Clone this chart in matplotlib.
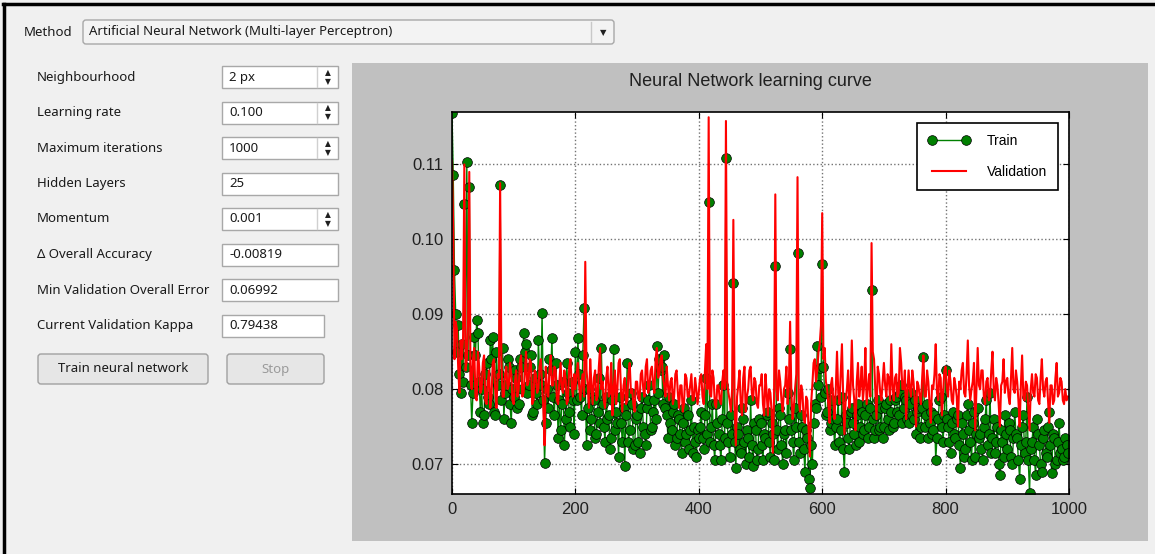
import numpy as np
import matplotlib
matplotlib.use("Agg")
import matplotlib.pyplot as plt
from matplotlib.patches import FancyBboxPatch, Rectangle

# form on the left of the dialog
method_name = "Artificial Neural Network (Multi-layer Perceptron)"
form_labels = ["Neighbourhood", "Learning rate", "Maximum iterations", "Hidden Layers",
               "Momentum", "\u0394 Overall Accuracy", "Min Validation Overall Error",
               "Current Validation Kappa"]
form_values = ["2 px", "0.100", "1000", "25", "0.001", "-0.00819", "0.06992", "0.79438"]
form_spin = [True, True, True, False, True, False, False, False]
button_labels = ["Train neural network", "Stop"]

iterations = np.arange(0, 1000, 2)
train_milli = [
    # 0 - 98
    116.8, 108.6, 95.9, 90.0, 85.0, 88.5, 82.0, 79.5, 86.0, 81.0,
    104.7, 83.0, 110.3, 84.5, 107.0, 80.5, 75.5, 79.5, 87.0, 84.5,
    89.2, 87.5, 81.0, 77.0, 80.0, 75.5, 76.5, 82.0, 83.5, 79.0,
    78.0, 86.5, 84.0, 87.0, 77.0, 76.5, 85.0, 80.5, 82.0, 107.3,
    78.5, 85.5, 76.0, 79.5, 80.5, 84.0, 83.0, 78.0, 75.5, 80.0,
    # 100 - 198
    79.0, 82.5, 81.5, 77.5, 78.0, 84.0, 83.0, 80.0, 87.5, 85.0,
    86.0, 79.5, 80.5, 83.0, 84.5, 76.5, 77.0, 81.5, 79.5, 78.0,
    86.5, 82.0, 80.5, 90.2, 78.5, 70.2, 75.5, 80.0, 77.5, 84.0,
    82.5, 86.8, 79.0, 76.5, 83.5, 80.5, 73.5, 78.5, 74.5, 78.0,
    81.0, 72.5, 76.0, 83.5, 79.5, 77.0, 75.0, 81.0, 78.5, 74.0,
    # 200 - 298
    85.0, 78.5, 86.8, 82.0, 79.0, 76.5, 84.5, 90.8, 80.0, 72.5,
    77.5, 80.0, 74.5, 76.0, 79.0, 78.5, 73.5, 74.0, 77.0, 81.5,
    75.5, 85.5, 78.0, 75.0, 73.0, 79.0, 76.0, 76.5, 72.0, 73.5,
    78.5, 85.3, 74.5, 77.0, 75.5, 71.0, 79.0, 75.5, 73.0, 77.5,
    69.8, 76.5, 83.5, 73.0, 74.5, 79.5, 78.0, 72.0, 72.5, 76.0,
    # 300 - 398
    76.5, 73.0, 71.5, 77.5, 79.0, 75.0, 74.0, 72.5, 77.5, 78.5,
    80.5, 74.5, 75.0, 77.0, 78.5, 76.0, 85.7, 79.5, 84.0, 82.5,
    83.0, 78.0, 84.5, 77.5, 76.5, 73.5, 79.0, 75.5, 74.5, 77.0,
    78.0, 72.5, 73.5, 76.5, 76.0, 74.0, 71.5, 75.5, 77.5, 73.0,
    74.0, 76.5, 72.0, 74.5, 78.5, 71.5, 75.0, 73.0, 71.0, 74.5,
    # 400 - 498
    73.5, 75.0, 77.0, 73.5, 72.0, 76.5, 81.5, 74.0, 105.0, 73.0,
    75.0, 78.0, 72.5, 70.5, 78.0, 75.5, 74.0, 72.5, 70.5, 76.0,
    80.5, 73.5, 110.9, 75.5, 73.0, 71.0, 76.5, 74.0, 94.2, 73.0,
    69.5, 75.0, 74.0, 72.0, 71.5, 77.5, 76.0, 73.0, 70.0, 74.5,
    73.5, 71.0, 78.5, 72.5, 69.8, 75.5, 74.5, 70.5, 72.0, 76.0,
    # 500 - 598
    75.5, 72.5, 70.5, 74.0, 73.5, 76.5, 77.0, 73.0, 71.0, 75.5,
    74.0, 70.5, 96.4, 74.5, 72.0, 77.5, 76.5, 72.5, 70.0, 74.0,
    74.5, 71.5, 79.5, 76.0, 85.3, 74.5, 73.0, 70.5, 77.5, 75.0,
    98.2, 73.0, 71.5, 76.5, 75.0, 72.0, 69.0, 74.5, 73.5, 68.0,
    66.8, 72.5, 70.0, 75.5, 78.0, 77.5, 85.7, 80.5, 82.8, 79.0,
    # 600 - 698
    96.7, 83.0, 79.5, 76.5, 77.0, 80.0, 74.5, 75.5, 78.5, 76.0,
    72.5, 75.0, 76.0, 78.5, 73.0, 74.5, 79.0, 72.0, 69.0, 76.5,
    75.5, 73.5, 72.0, 77.0, 77.5, 75.5, 74.0, 72.5, 76.5, 78.0,
    73.0, 75.0, 77.0, 74.0, 74.5, 76.5, 78.0, 73.5, 75.0, 77.5,
    93.2, 76.0, 73.5, 74.5, 76.5, 78.5, 74.5, 75.0, 77.5, 73.5,
    # 700 - 798
    75.0, 77.5, 78.0, 76.0, 74.5, 78.5, 77.0, 75.0, 75.5, 78.5,
    79.0, 77.0, 76.5, 79.5, 80.5, 75.5, 77.5, 79.0, 78.5, 76.0,
    75.5, 78.0, 79.5, 76.5, 76.0, 78.5, 74.0, 77.0, 77.5, 73.5,
    75.0, 77.5, 84.3, 75.0, 76.5, 78.0, 73.5, 75.5, 77.0, 74.0,
    74.5, 76.5, 70.5, 73.5, 76.0, 78.5, 79.0, 75.0, 73.0, 76.5,
    # 800 - 898
    82.5, 76.0, 75.0, 73.0, 71.5, 75.5, 77.0, 74.0, 73.5, 76.0,
    76.5, 72.5, 69.5, 75.5, 74.0, 71.0, 72.0, 76.5, 78.0, 74.5,
    73.0, 70.5, 75.5, 77.0, 71.0, 74.0, 77.5, 73.5, 74.0, 72.0,
    70.5, 75.0, 76.0, 78.5, 72.5, 74.0, 79.5, 71.5, 73.5, 76.0,
    71.5, 73.0, 75.0, 70.0, 68.5, 74.5, 73.0, 71.0, 76.5, 74.0,
    # 900 - 998
    72.0, 75.5, 74.5, 71.0, 70.0, 73.5, 77.0, 74.0, 73.5, 70.5,
    68.0, 72.5, 75.0, 76.5, 71.5, 73.0, 79.0, 70.5, 66.2, 72.0,
    73.0, 75.0, 70.5, 68.5, 76.0, 74.0, 72.5, 70.0, 69.0, 73.5,
    74.5, 71.5, 71.0, 75.0, 77.0, 72.5, 68.8, 74.0, 73.5, 70.0,
    70.5, 73.0, 75.5, 71.5, 72.0, 70.5, 71.0, 73.5, 72.5, 71.5,
]
valid_milli = [
    # 0 - 98
    110.5, 101.0, 84.0, 89.0, 88.0, 83.0, 79.5, 86.5, 84.0, 87.0,
    110.0, 82.5, 84.0, 88.5, 109.0, 81.0, 80.0, 84.0, 85.5, 79.0,
    78.5, 85.0, 83.0, 79.5, 80.0, 83.5, 84.5, 78.5, 78.0, 81.0,
    82.5, 77.5, 79.0, 83.5, 84.0, 80.0, 77.5, 82.0, 81.5, 107.5,
    84.0, 79.0, 79.0, 82.0, 83.0, 80.0, 80.5, 83.5, 82.0, 78.5,
    # 100 - 198
    78.0, 81.0, 82.5, 79.0, 80.0, 83.5, 84.5, 79.0, 79.5, 82.0,
    85.0, 80.5, 81.0, 84.0, 83.5, 78.0, 78.5, 82.5, 82.0, 79.5,
    80.0, 83.0, 84.0, 80.5, 77.5, 72.5, 83.0, 80.0, 79.0, 82.5,
    84.5, 80.5, 80.5, 83.0, 82.5, 78.5, 78.0, 81.0, 83.5, 80.0,
    79.5, 82.5, 81.5, 78.0, 78.5, 83.0, 84.0, 80.5, 79.0, 82.0,
    # 200 - 298
    80.0, 82.0, 83.5, 80.5, 78.5, 81.0, 82.0, 79.0, 97.0, 82.5,
    80.5, 77.5, 84.0, 80.5, 78.0, 81.5, 82.5, 78.5, 79.0, 83.0,
    85.5, 80.0, 81.0, 78.5, 77.5, 81.5, 83.0, 79.0, 79.5, 83.5,
    76.5, 80.0, 82.5, 78.0, 80.0, 83.5, 84.0, 79.5, 77.0, 80.5,
    81.5, 78.0, 78.5, 82.0, 83.5, 79.5, 80.0, 78.0, 77.0, 81.0,
    # 300 - 398
    81.0, 79.0, 78.5, 82.0, 82.5, 80.0, 79.0, 83.0, 84.0, 79.5,
    80.5, 82.5, 83.0, 80.5, 79.5, 84.0, 85.5, 81.5, 82.0, 84.0,
    84.5, 81.5, 80.5, 79.0, 83.0, 80.5, 78.5, 81.0, 81.5, 78.0,
    79.0, 82.0, 82.5, 79.5, 77.5, 80.5, 80.5, 77.0, 78.0, 82.0,
    81.5, 79.0, 79.0, 80.5, 82.0, 78.5, 78.5, 81.5, 80.0, 78.0,
    # 400 - 498
    79.5, 81.5, 82.0, 79.0, 78.0, 82.5, 86.0, 80.0, 116.3, 79.5,
    79.0, 82.5, 81.5, 78.0, 77.5, 80.5, 80.5, 78.5, 78.0, 81.0,
    82.5, 80.0, 115.8, 81.0, 79.5, 78.5, 77.0, 80.0, 102.6, 78.0,
    72.5, 79.0, 80.5, 82.5, 78.0, 76.5, 81.5, 83.0, 77.0, 79.0,
    80.0, 82.5, 83.0, 79.5, 78.5, 81.5, 81.0, 78.0, 77.5, 80.5,
    # 500 - 598
    80.5, 82.0, 78.0, 76.5, 82.0, 79.5, 76.5, 80.0, 79.5, 77.0,
    71.5, 79.0, 106.0, 80.0, 78.5, 82.5, 81.0, 78.5, 77.0, 80.0,
    80.5, 83.0, 78.0, 80.5, 89.0, 79.5, 76.0, 77.5, 80.0, 82.0,
    108.3, 78.5, 77.0, 80.5, 79.5, 76.0, 75.5, 79.0, 78.5, 74.5,
    71.0, 78.0, 80.5, 83.5, 84.0, 81.0, 82.5, 85.0, 86.0, 88.5,
    # 600 - 698
    103.5, 84.0, 85.5, 81.0, 80.0, 78.0, 75.5, 80.5, 81.5, 78.5,
    76.0, 80.0, 85.0, 79.5, 78.0, 82.0, 86.0, 79.0, 74.0, 78.5,
    80.0, 82.5, 77.5, 80.0, 86.5, 80.5, 78.5, 74.5, 81.0, 83.5,
    79.0, 80.5, 83.0, 78.5, 80.5, 85.5, 78.0, 80.0, 82.0, 79.0,
    99.5, 85.0, 84.0, 80.0, 76.0, 83.0, 82.0, 79.5, 78.5, 81.0,
    # 700 - 798
    83.5, 80.5, 79.0, 82.0, 81.5, 78.5, 86.0, 80.5, 78.5, 81.5,
    82.0, 79.0, 79.5, 85.5, 83.5, 80.0, 80.0, 82.5, 76.0, 79.5,
    82.5, 80.0, 79.0, 82.5, 81.0, 78.5, 75.0, 81.0, 80.5, 79.0,
    78.0, 81.5, 84.5, 79.0, 79.0, 82.5, 81.0, 78.0, 75.5, 80.5,
    80.0, 82.0, 86.0, 79.5, 78.5, 82.0, 81.5, 76.5, 79.5, 82.5,
    # 800 - 898
    83.0, 80.0, 79.0, 82.5, 81.0, 78.5, 78.0, 81.5, 80.5, 79.0,
    75.0, 81.0, 80.0, 82.5, 83.5, 79.5, 79.0, 82.0, 86.5, 80.5,
    78.5, 80.0, 81.0, 83.5, 74.5, 80.0, 85.5, 80.5, 80.0, 82.5,
    82.5, 79.0, 78.0, 81.0, 81.5, 78.5, 79.0, 82.5, 85.0, 80.0,
    78.5, 81.5, 80.5, 78.0, 75.0, 80.5, 81.0, 84.0, 79.5, 81.0,
    # 900 - 998
    81.5, 79.0, 78.0, 81.5, 85.5, 80.0, 79.5, 82.5, 81.0, 78.5,
    75.0, 80.5, 84.5, 79.0, 78.5, 81.0, 80.5, 77.5, 74.5, 80.0,
    82.0, 79.5, 79.0, 82.0, 81.5, 78.5, 78.0, 81.5, 84.0, 80.0,
    79.0, 81.0, 81.5, 78.5, 75.5, 80.5, 80.5, 78.0, 78.5, 81.5,
    83.5, 79.0, 79.5, 81.5, 81.0, 78.5, 78.0, 80.0, 78.5, 79.0,
]
train_err = np.array(train_milli) / 1000.0
valid_err = np.array(valid_milli) / 1000.0

W, H = 1155, 554
ui_font = "Noto Sans"
ui_size = 9.5
fig = plt.figure(figsize=(W / 100, H / 100), dpi=100, facecolor="#f0f0f0")

# background axes in pixel coordinates for the dialog widgets
bg = fig.add_axes([0, 0, 1, 1])
bg.set_xlim(0, W)
bg.set_ylim(H, 0)
bg.axis("off")

# window border
bg.plot([3, W], [4, 4], color="black", lw=2.5)
bg.plot([4, 4], [4, H], color="black", lw=2.5)

# method combo box
bg.text(24, 32, "Method", family=ui_font, fontsize=ui_size, va="center", color="#1a1a1a")
bg.add_patch(FancyBboxPatch((83, 20), 531, 24, boxstyle="round,pad=0,rounding_size=3",
                            fc="#f3f3f3", ec="#a8a8a8", lw=1))
bg.text(89, 32, method_name, family=ui_font, fontsize=ui_size, va="center", color="#1a1a1a")
bg.plot([591, 591], [22, 42], color="#c8c8c8", lw=1)
bg.text(603, 33, "\u25BC", family="DejaVu Sans", fontsize=6, ha="center", va="center", color="#202020")

# form rows
for i, (lab, val, spin) in enumerate(zip(form_labels, form_values, form_spin)):
    y = 77 + 35.5 * i
    bg.text(37, y, lab, family=ui_font, fontsize=ui_size, va="center", color="#1a1a1a")
    bw = 102 if i == len(form_labels) - 1 else 116
    bg.add_patch(Rectangle((222, y - 11), bw, 22, fc="white", ec="#a8a8a8", lw=1))
    bg.text(229, y, val, family=ui_font, fontsize=ui_size, va="center", color="#1a1a1a")
    if spin:
        bg.plot([317, 317], [y - 10, y + 10], color="#d0d0d0", lw=1)
        bg.text(327.5, y - 4.5, "\u25B2", family="DejaVu Sans", fontsize=5.5,
                ha="center", va="center", color="#202020")
        bg.text(327.5, y + 4.5, "\u25BC", family="DejaVu Sans", fontsize=5.5,
                ha="center", va="center", color="#202020")

# buttons
for (x0, x1), lab, col in zip([(38, 208), (227, 324)], button_labels, ["#1a1a1a", "#9a9a9a"]):
    bg.add_patch(FancyBboxPatch((x0, 354), x1 - x0, 30, boxstyle="round,pad=0,rounding_size=3",
                                fc="#e6e6e6", ec="#a0a0a0", lw=1))
    bg.text((x0 + x1) / 2, 369, lab, family=ui_font, fontsize=ui_size, ha="center",
            va="center", color=col)

# grey panel of the plot widget
bg.add_patch(Rectangle((352, 63), 796, 478, fc="#c0c0c0", ec="none"))
bg.text(750, 82, "Neural Network learning curve", family="Liberation Sans", fontsize=13,
        ha="center", va="center", color="#202020")

# learning curve
ax = fig.add_axes([452 / W, (H - 494) / H, (1069 - 452) / W, (494 - 112) / H])
ax.set_facecolor("white")
ax.plot(iterations, train_err, "o-", color=(0, 0.5, 0), mfc=(0, 0.5, 0), mec="black",
        mew=0.5, ms=7, lw=1, label="Train")
ax.plot(iterations, valid_err, "-", color="red", lw=1.5, label="Validation")
ax.set_xlim(0, 1000)
ax.set_ylim(0.066, 0.117)
ax.set_xticks([0, 200, 400, 600, 800, 1000])
ax.set_yticks([0.07, 0.08, 0.09, 0.10, 0.11])
ax.set_yticklabels(["%.2f" % t for t in [0.07, 0.08, 0.09, 0.10, 0.11]])
ax.grid(True, color="0.45", linestyle=":", linewidth=1)
ax.tick_params(direction="in", top=True, right=True, length=4, labelsize=12, pad=6)
for t in ax.get_xticklabels() + ax.get_yticklabels():
    t.set_family("Liberation Sans")
    t.set_color("#202020")
for s in ax.spines.values():
    s.set_linewidth(1.2)

leg = ax.legend(loc="upper right", prop={"family": "Liberation Sans", "size": 10},
                handlelength=3, handletextpad=1.2, labelspacing=1.2, borderpad=0.8,
                fancybox=False, edgecolor="black", framealpha=1, numpoints=2,
                borderaxespad=0.8)
leg.get_frame().set_linewidth(1.2)

fig.savefig("out.png", dpi=100, facecolor=fig.get_facecolor())
